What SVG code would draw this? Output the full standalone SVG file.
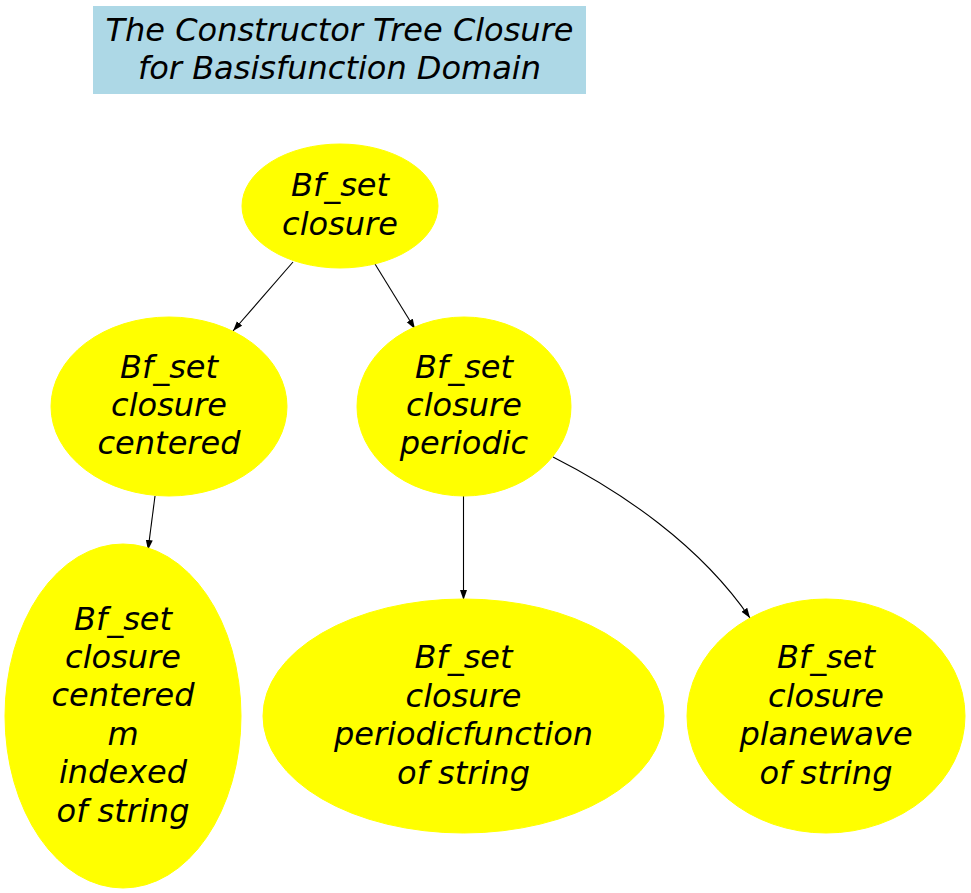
<svg xmlns="http://www.w3.org/2000/svg" width="971" height="893" viewBox="0 0 971 893">
<style>
text{font-family:"DejaVu Sans","Liberation Sans",sans-serif;font-style:italic;font-size:32px;fill:#000;text-anchor:middle}
.node ellipse{fill:#ffff00;stroke:#ffff00}
.edge{fill:none;stroke:#000;stroke-width:1.1}
</style>
<defs>
<marker id="arr" markerUnits="userSpaceOnUse" markerWidth="11" markerHeight="8" refX="10" refY="3.5" orient="auto">
<path d="M0,0 L10,3.5 L0,7 z" fill="#000"/>
</marker>
</defs>
<rect width="971" height="893" fill="#fff"/>
<g id="title">
<rect x="93" y="6" width="493" height="88" fill="#add8e6"/>
<text x="339.5" y="40.5">The Constructor Tree Closure</text>
<text x="339.5" y="78.5">for Basisfunction Domain</text>
</g>
<g id="connectors">
<path class="edge" d="M293,262 L233,331" marker-end="url(#arr)"/>
<path class="edge" d="M375,264 L415,329" marker-end="url(#arr)"/>
<path class="edge" d="M155,496 L148,550" marker-end="url(#arr)"/>
<path class="edge" d="M463.5,496 L463.5,600" marker-end="url(#arr)"/>
<path class="edge" d="M553,457 C622,492 700,545 750,618" marker-end="url(#arr)"/>
</g>
<g id="n1" class="node">
<ellipse cx="340" cy="206" rx="98" ry="62"/>
<text x="340" y="196.3">Bf_set</text>
<text x="340" y="234.7">closure</text>
</g>
<g id="n2" class="node">
<ellipse cx="169" cy="406.5" rx="118" ry="89.5"/>
<text x="169" y="377.6">Bf_set</text>
<text x="169" y="416">closure</text>
<text x="169" y="454.4">centered</text>
</g>
<g id="n3" class="node">
<ellipse cx="464" cy="406.5" rx="107" ry="89.5"/>
<text x="464" y="377.6">Bf_set</text>
<text x="464" y="416">closure</text>
<text x="464" y="454.4">periodic</text>
</g>
<g id="n4" class="node">
<ellipse cx="123" cy="716" rx="118" ry="172"/>
<text x="123" y="629.5">Bf_set</text>
<text x="123" y="667.9">closure</text>
<text x="123" y="706.3">centered</text>
<text x="123" y="744.7">m</text>
<text x="123" y="783.1">indexed</text>
<text x="123" y="821.5">of string</text>
</g>
<g id="n5" class="node">
<ellipse cx="463.5" cy="716" rx="200.5" ry="117"/>
<text x="463.5" y="668.3">Bf_set</text>
<text x="463.5" y="706.7">closure</text>
<text x="463.5" y="745.1">periodicfunction</text>
<text x="463.5" y="783.5">of string</text>
</g>
<g id="n6" class="node">
<ellipse cx="826" cy="716" rx="139" ry="117"/>
<text x="826" y="668.3">Bf_set</text>
<text x="826" y="706.7">closure</text>
<text x="826" y="745.1">planewave</text>
<text x="826" y="783.5">of string</text>
</g>
</svg>
